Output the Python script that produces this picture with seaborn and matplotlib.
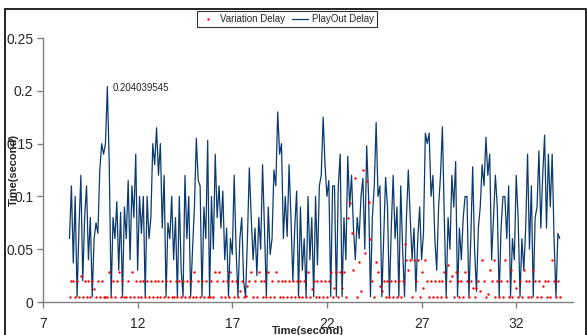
import numpy as np
import pandas as pd
import matplotlib
matplotlib.use("Agg")
import matplotlib.pyplot as plt
import seaborn as sns
from matplotlib.patches import Rectangle

sns.set_style("ticks")
plt.rcParams["font.family"] = ["Liberation Sans", "DejaVu Sans"]

# ── Data (one sample every 0.1 s from 8.4 s) ─────────────────────────────────
time_start = 8.4
time_step = 0.1

playout_delay = [
    0.060, 0.110, 0.037, 0.100, 0.005, 0.070, 0.120, 0.020, 0.080, 0.110,
    0.040, 0.080, 0.005, 0.060, 0.075, 0.065, 0.125, 0.150, 0.140, 0.150,
    0.204039545, 0.130, 0.005, 0.080, 0.060, 0.095, 0.030, 0.085, 0.005, 0.090,
    0.060, 0.115, 0.040, 0.110, 0.080, 0.140, 0.030, 0.100, 0.065, 0.100,
    0.005, 0.100, 0.060, 0.080, 0.150, 0.130, 0.165, 0.120, 0.150, 0.070,
    0.120, 0.005, 0.075, 0.060, 0.100, 0.040, 0.080, 0.005, 0.100, 0.030,
    0.005, 0.120, 0.060, 0.100, 0.005, 0.050, 0.090, 0.155, 0.115, 0.110,
    0.005, 0.090, 0.060, 0.153, 0.005, 0.100, 0.050, 0.140, 0.080, 0.110,
    0.070, 0.105, 0.040, 0.070, 0.005, 0.060, 0.045, 0.120, 0.050, 0.005,
    0.060, 0.080, 0.020, 0.005, 0.060, 0.127, 0.080, 0.040, 0.070, 0.025,
    0.080, 0.050, 0.130, 0.070, 0.005, 0.090, 0.045, 0.060, 0.125, 0.110,
    0.180, 0.140, 0.150, 0.060, 0.100, 0.062, 0.130, 0.080, 0.020, 0.070,
    0.105, 0.005, 0.090, 0.030, 0.060, 0.005, 0.100, 0.040, 0.080, 0.005,
    0.100, 0.035, 0.110, 0.120, 0.175, 0.130, 0.100, 0.115, 0.005, 0.110,
    0.110, 0.005, 0.110, 0.140, 0.005, 0.080, 0.040, 0.138, 0.090, 0.120,
    0.070, 0.040, 0.080, 0.060, 0.100, 0.117, 0.050, 0.148, 0.100, 0.005,
    0.080, 0.110, 0.170, 0.100, 0.110, 0.005, 0.060, 0.118, 0.090, 0.005,
    0.070, 0.120, 0.060, 0.090, 0.005, 0.110, 0.050, 0.005, 0.080, 0.125,
    0.080, 0.040, 0.070, 0.010, 0.060, 0.090, 0.040, 0.065, 0.160, 0.150,
    0.160, 0.100, 0.120, 0.060, 0.030, 0.090, 0.120, 0.166, 0.080, 0.005,
    0.080, 0.050, 0.120, 0.090, 0.133, 0.005, 0.070, 0.040, 0.080, 0.100,
    0.100, 0.005, 0.060, 0.128, 0.050, 0.010, 0.070, 0.090, 0.130, 0.110,
    0.156, 0.120, 0.140, 0.040, 0.080, 0.120, 0.090, 0.005, 0.070, 0.100,
    0.100, 0.060, 0.110, 0.005, 0.060, 0.040, 0.120, 0.080, 0.005, 0.060,
    0.030, 0.070, 0.140, 0.050, 0.110, 0.005, 0.080, 0.090, 0.143, 0.070,
    0.120, 0.158, 0.070, 0.140, 0.090, 0.140, 0.060, 0.005, 0.065, 0.060,
]

variation_delay = [
    0.005, 0.020, 0.020, 0.005, 0.020, 0.005, 0.025, 0.005, 0.020, 0.005,
    0.020, 0.005, 0.020, 0.012, 0.005, 0.020, 0.005, 0.020, 0.005, 0.005,
    0.005, 0.028, 0.005, 0.020, 0.005, 0.020, 0.028, 0.005, 0.020, 0.005,
    0.005, 0.020, 0.005, 0.028, 0.005, 0.020, 0.005, 0.020, 0.005, 0.020,
    0.005, 0.020, 0.005, 0.020, 0.005, 0.020, 0.005, 0.020, 0.005, 0.020,
    0.005, 0.020, 0.005, 0.020, 0.005, 0.005, 0.020, 0.005, 0.020, 0.005,
    0.020, 0.005, 0.020, 0.005, 0.020, 0.005, 0.028, 0.005, 0.020, 0.005,
    0.020, 0.005, 0.020, 0.005, 0.005, 0.020, 0.005, 0.028, 0.020, 0.028,
    0.005, 0.020, 0.005, 0.020, 0.005, 0.028, 0.020, 0.005, 0.020, 0.005,
    0.010, 0.020, 0.005, 0.006, 0.015, 0.020, 0.028, 0.005, 0.020, 0.005,
    0.028, 0.020, 0.005, 0.020, 0.005, 0.028, 0.005, 0.020, 0.005, 0.028,
    0.020, 0.005, 0.020, 0.005, 0.020, 0.005, 0.020, 0.005, 0.020, 0.005,
    0.020, 0.005, 0.020, 0.005, 0.020, 0.005, 0.028, 0.005, 0.012, 0.020,
    0.005, 0.020, 0.005, 0.020, 0.005, 0.020, 0.005, 0.020, 0.028, 0.005,
    0.013, 0.028, 0.005, 0.028, 0.013, 0.028, 0.005, 0.080, 0.094, 0.065,
    0.030, 0.117, 0.005, 0.038, 0.010, 0.125, 0.046, 0.115, 0.095, 0.060,
    0.020, 0.005, 0.038, 0.028, 0.015, 0.010, 0.020, 0.005, 0.020, 0.005,
    0.020, 0.005, 0.020, 0.005, 0.020, 0.005, 0.020, 0.055, 0.040, 0.030,
    0.040, 0.005, 0.040, 0.020, 0.040, 0.005, 0.028, 0.013, 0.040, 0.020,
    0.005, 0.020, 0.005, 0.020, 0.005, 0.020, 0.005, 0.020, 0.028, 0.005,
    0.035, 0.020, 0.025, 0.005, 0.028, 0.020, 0.005, 0.020, 0.005, 0.028,
    0.020, 0.005, 0.020, 0.013, 0.005, 0.013, 0.020, 0.010, 0.040, 0.020,
    0.005, 0.008, 0.030, 0.020, 0.040, 0.005, 0.020, 0.005, 0.020, 0.005,
    0.040, 0.020, 0.005, 0.030, 0.005, 0.020, 0.013, 0.005, 0.020, 0.005,
    0.030, 0.020, 0.005, 0.020, 0.005, 0.030, 0.020, 0.005, 0.020, 0.005,
    0.015, 0.020, 0.005, 0.020, 0.005, 0.040, 0.020, 0.005, 0.020, 0.005,
]

x_ticks = [7, 12, 17, 22, 27, 32]
y_ticks = [0, 0.05, 0.1, 0.15, 0.2, 0.25]
y_tick_labels = ["0", "0.05", "0.1", "0.15", "0.2", "0.25"]

df = pd.DataFrame({"playout": playout_delay, "variation": variation_delay})
df["time"] = np.round(time_start + time_step * np.arange(len(df)), 2)

# ── Figure ───────────────────────────────────────────────────────────────────
fig = plt.figure(figsize=(5.87, 3.35), dpi=100)
ax = fig.add_axes([43 / 587, 33 / 335, 530 / 587, 264 / 335])

line_color = "#0b3a6e"
sns.lineplot(data=df, x="time", y="playout", ax=ax, color=line_color,
             linewidth=0.9, label="PlayOut Delay", zorder=2)
sns.scatterplot(data=df, x="time", y="variation", ax=ax, color="#ff0000",
                s=3, marker="o", linewidth=0, label="Variation Delay", zorder=3)

ax.set_xlim(7, 35)
ax.set_ylim(0, 0.25)
ax.set_xticks(x_ticks)
ax.set_yticks(y_ticks)
ax.set_yticklabels(y_tick_labels)
ax.tick_params(axis="both", labelsize=10, length=4, width=1, color="#808080",
               direction="out", pad=3)
ax.tick_params(axis="x", pad=6.5)

for side in ["top", "right"]:
    ax.spines[side].set_visible(False)
for side in ["left", "bottom"]:
    ax.spines[side].set_color("#808080")
    ax.spines[side].set_linewidth(1)

ax.set_xlabel("Time(second)", fontsize=8, fontweight="bold")
ax.xaxis.set_label_coords(0.5, -0.108)
ax.xaxis.label.set_va("center")
ax.set_ylabel("Time(second)", fontsize=8, fontweight="bold")
ax.yaxis.set_label_coords(-0.055, 0.5)
ax.yaxis.label.set_va("center")

# peak annotation
peak_idx = int(df["playout"].idxmax())
peak_t = df.loc[peak_idx, "time"]
peak_v = df.loc[peak_idx, "playout"]
ax.annotate(f"{peak_v}", xy=(peak_t, peak_v), xytext=(4, -1),
            textcoords="offset points", fontsize=7, va="center", ha="left")

# legend: Variation first, then PlayOut
handles, labels = ax.get_legend_handles_labels()
order = [labels.index("Variation Delay"), labels.index("PlayOut Delay")]
ax.legend_.remove()
leg = fig.legend([handles[i] for i in order], [labels[i] for i in order],
                 loc="center", bbox_to_anchor=(287 / 587, 1 - 19 / 335),
                 bbox_transform=fig.transFigure, ncol=2, fontsize=7,
                 frameon=True, fancybox=False, edgecolor="#000000",
                 borderpad=0.35, handlelength=1.6, handletextpad=0.4,
                 columnspacing=0.8, markerscale=1.0)
leg.get_frame().set_linewidth(0.8)

# chart area border
fig.patches.append(Rectangle((5 / 587, -0.05), 0.99, 1 - 9 / 335 + 0.05,
                             transform=fig.transFigure, fill=False,
                             edgecolor="#000000", linewidth=1.2))

fig.savefig("out.png", dpi=100)
